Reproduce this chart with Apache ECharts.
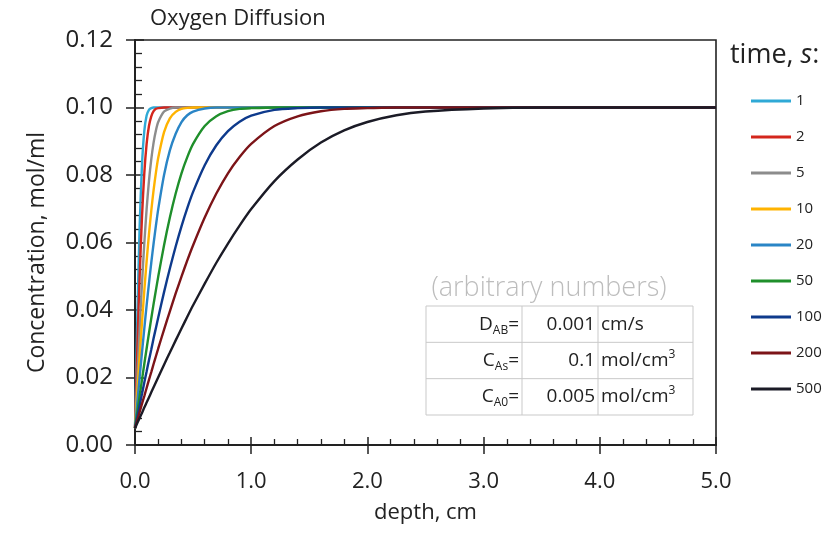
<!DOCTYPE html>
<html>
<head>
<meta charset="utf-8">
<script src="https://cdn.jsdelivr.net/npm/echarts@6/dist/echarts.min.js"></script>
<style>
html,body{margin:0;padding:0;background:#fff;}
#chart{width:838px;height:534px;}
</style>
</head>
<body>
<div id="chart"></div>
<script>
// depth grid (cm)
const depth = [0, 0.02, 0.04, 0.06, 0.08, 0.10, 0.12, 0.14, 0.16, 0.18, 0.20, 0.25, 0.30, 0.35, 0.40, 0.45, 0.50, 0.60, 0.70, 0.80, 0.90, 1.00, 1.20, 1.40, 1.60, 1.80, 2.00, 2.25, 2.50, 3.00, 3.50, 4.00, 5.00];

// concentration (mol/ml) per time
const c1   = [0.005, 0.0378, 0.0648, 0.0829, 0.0930, 0.0976, 0.0993, 0.0998, 0.1, 0.1, 0.1, 0.1, 0.1, 0.1, 0.1, 0.1, 0.1, 0.1, 0.1, 0.1, 0.1, 0.1, 0.1, 0.1, 0.1, 0.1, 0.1, 0.1, 0.1, 0.1, 0.1, 0.1, 0.1];
const c2   = [0.005, 0.0286, 0.0499, 0.0674, 0.0805, 0.0892, 0.0945, 0.0974, 0.0989, 0.0996, 0.0998, 0.1, 0.1, 0.1, 0.1, 0.1, 0.1, 0.1, 0.1, 0.1, 0.1, 0.1, 0.1, 0.1, 0.1, 0.1, 0.1, 0.1, 0.1, 0.1, 0.1, 0.1, 0.1];
const c5   = [0.005, 0.0201, 0.0345, 0.0478, 0.0597, 0.0699, 0.0782, 0.0846, 0.0896, 0.0932, 0.0957, 0.0988, 0.0997, 0.1, 0.1, 0.1, 0.1, 0.1, 0.1, 0.1, 0.1, 0.1, 0.1, 0.1, 0.1, 0.1, 0.1, 0.1, 0.1, 0.1, 0.1, 0.1, 0.1];
const c10  = [0.005, 0.0157, 0.0262, 0.0362, 0.0457, 0.0544, 0.0624, 0.0694, 0.0755, 0.0807, 0.0851, 0.0927, 0.0968, 0.0987, 0.0996, 0.0999, 0.1, 0.1, 0.1, 0.1, 0.1, 0.1, 0.1, 0.1, 0.1, 0.1, 0.1, 0.1, 0.1, 0.1, 0.1, 0.1, 0.1];
const c20  = [0.005, 0.0126, 0.0201, 0.0274, 0.0345, 0.0414, 0.0478, 0.0540, 0.0597, 0.0650, 0.0699, 0.0800, 0.0873, 0.0922, 0.0957, 0.0977, 0.0988, 0.0997, 0.1, 0.1, 0.1, 0.1, 0.1, 0.1, 0.1, 0.1, 0.1, 0.1, 0.1, 0.1, 0.1, 0.1, 0.1];
const c50  = [0.005, 0.0098, 0.0145, 0.0193, 0.0240, 0.0286, 0.0331, 0.0375, 0.0418, 0.0459, 0.0499, 0.0592, 0.0674, 0.0745, 0.0805, 0.0853, 0.0892, 0.0945, 0.0974, 0.0989, 0.0996, 0.0998, 0.1, 0.1, 0.1, 0.1, 0.1, 0.1, 0.1, 0.1, 0.1, 0.1, 0.1];
const c100 = [0.005, 0.0084, 0.0118, 0.0151, 0.0185, 0.0218, 0.0251, 0.0283, 0.0316, 0.0347, 0.0378, 0.0453, 0.0523, 0.0588, 0.0648, 0.0702, 0.0750, 0.0829, 0.0888, 0.0930, 0.0958, 0.0976, 0.0993, 0.0998, 0.1, 0.1, 0.1, 0.1, 0.1, 0.1, 0.1, 0.1, 0.1];
const c200 = [0.005, 0.0074, 0.0098, 0.0122, 0.0145, 0.0169, 0.0193, 0.0216, 0.0240, 0.0263, 0.0286, 0.0342, 0.0396, 0.0449, 0.0499, 0.0547, 0.0592, 0.0674, 0.0745, 0.0805, 0.0853, 0.0892, 0.0945, 0.0974, 0.0989, 0.0996, 0.0998, 0.1, 0.1, 0.1, 0.1, 0.1, 0.1];
const c500 = [0.005, 0.0065, 0.0080, 0.0095, 0.0111, 0.0126, 0.0141, 0.0156, 0.0171, 0.0186, 0.0201, 0.0238, 0.0274, 0.0310, 0.0345, 0.0380, 0.0414, 0.0478, 0.0540, 0.0597, 0.0650, 0.0699, 0.0782, 0.0846, 0.0896, 0.0932, 0.0957, 0.0977, 0.0988, 0.0997, 0.1, 0.1, 0.1];

const seriesNames = ['1', '2', '5', '10', '20', '50', '100', '200', '500'];
const seriesValues = [c1, c2, c5, c10, c20, c50, c100, c200, c500];
const colors = ['#2fa9d6', '#d4261c', '#8c8c8c', '#ffb300', '#2a85c6', '#1f8f2b', '#0e3a8c', '#7c1418', '#1b1b26'];

const xTicks = [0, 1, 2, 3, 4, 5];
const yTicks = [0, 0.02, 0.04, 0.06, 0.08, 0.10, 0.12];

const FONT = '"Open Sans", "Noto Sans", sans-serif';
const INK = '#222';

const chart = echarts.init(document.getElementById('chart'), null, {renderer: 'canvas'});

const series = seriesNames.map((n, k) => ({
  name: n,
  type: 'line',
  xAxisIndex: 0,
  yAxisIndex: 0,
  showSymbol: false,
  symbol: 'none',
  smooth: 0.25,
  lineStyle: {width: 2.4, color: colors[k]},
  itemStyle: {color: colors[k]},
  data: depth.map((d, i) => [d, seriesValues[k][i]])
}));

const tableFont = 19;
const rich = {
  m: {fontSize: tableFont, fontFamily: FONT, fill: INK, lineHeight: 24},
  s: {fontSize: 12, fontFamily: FONT, fill: INK, lineHeight: 15, verticalAlign: 'bottom'},
  p: {fontSize: 12, fontFamily: FONT, fill: INK, lineHeight: 12, verticalAlign: 'top'}
};
function txt(x, y, text, align) {
  return {type: 'text', x: x, y: y, z: 10,
    style: {text: text, rich: rich, font: tableFont + 'px ' + FONT, fill: INK,
      align: align, textAlign: align, verticalAlign: 'middle', textVerticalAlign: 'middle'}};
}
const tL = 426, tR = 693, tT = 306, tB = 415, c1x = 522, c2x = 598;
const rH = (tB - tT) / 3;
const lineStyleTbl = {stroke: '#c9c9c9', lineWidth: 1};

const option = {
  animation: false,
  color: colors,
  textStyle: {fontFamily: FONT},
  title: [{
    text: 'Oxygen Diffusion', left: 145, top: 3,
    textStyle: {fontSize: 22, fontWeight: 'normal', color: INK, fontFamily: FONT}
  }],
  legend: {
    orient: 'vertical', left: 746, top: 88,
    icon: 'rect', itemWidth: 40, itemHeight: 3, itemGap: 20,
    textStyle: {fontSize: 15, color: INK, lineHeight: 16, fontFamily: FONT},
    data: seriesNames
  },
  grid: {left: 135, right: 122, top: 40, bottom: 89, show: true, borderColor: INK, borderWidth: 1.6, backgroundColor: 'transparent'},
  xAxis: [{
    type: 'value', min: xTicks[0], max: xTicks[xTicks.length - 1], interval: 1, position: 'bottom',
    axisLine: {show: true, onZero: false, lineStyle: {color: INK, width: 2}},
    axisTick: {show: true, inside: true, length: 8, lineStyle: {color: INK, width: 1.5}},
    minorTick: {show: true, splitNumber: 5, length: 6, lineStyle: {color: INK, width: 1.3}},
    splitLine: {show: false},
    axisLabel: {formatter: v => v.toFixed(1), fontSize: 22, color: INK, margin: 26, fontFamily: FONT},
    name: 'depth, cm', nameLocation: 'middle', nameGap: 57,
    nameTextStyle: {fontSize: 22, color: INK, fontFamily: FONT}
  }, {
    type: 'value', min: xTicks[0], max: xTicks[xTicks.length - 1], interval: 1, position: 'bottom',
    axisLine: {show: false, onZero: false},
    axisTick: {show: true, inside: false, length: 9, lineStyle: {color: INK, width: 1.5}},
    axisLabel: {show: false}, splitLine: {show: false}
  }],
  yAxis: [{
    type: 'value', min: yTicks[0], max: yTicks[yTicks.length - 1], interval: 0.02, position: 'left',
    axisLine: {show: true, onZero: false, lineStyle: {color: INK, width: 2}},
    axisTick: {show: true, inside: true, length: 9, lineStyle: {color: INK, width: 1.5}},
    minorTick: {show: true, splitNumber: 5, length: 7, lineStyle: {color: INK, width: 1.3}},
    splitLine: {show: false},
    axisLabel: {formatter: v => v.toFixed(2), fontSize: 24, color: INK, margin: 22, fontFamily: FONT},
    name: 'Concentration, mol/ml', nameLocation: 'middle', nameGap: 86, nameRotate: 90,
    nameTextStyle: {fontSize: 23, color: INK, fontFamily: FONT, padding: [0, 20, 0, 0]}
  }, {
    type: 'value', min: yTicks[0], max: yTicks[yTicks.length - 1], interval: 0.02, position: 'left',
    axisLine: {show: false, onZero: false},
    axisTick: {show: true, inside: false, length: 9, lineStyle: {color: INK, width: 1.5}},
    axisLabel: {show: false}, splitLine: {show: false}
  }],
  graphic: [
    {type: 'text', x: 730, y: 55, z: 10,
      style: {text: '{a|time, }{i|s}{a|:}', rich: {
        a: {fontSize: 27, fontFamily: FONT, fill: INK},
        i: {fontSize: 27, fontFamily: FONT, fill: INK, fontStyle: 'italic'}},
        font: '27px ' + FONT, fill: INK, align: 'left', textAlign: 'left', verticalAlign: 'middle', textVerticalAlign: 'middle'}},
    {type: 'text', x: 549, y: 288, z: 10,
      style: {text: '(arbitrary numbers)', font: '300 27px ' + FONT, fill: '#bdbdbd',
        align: 'center', textAlign: 'center', verticalAlign: 'middle', textVerticalAlign: 'middle'}},
    {type: 'rect', z: 5, shape: {x: tL, y: tT, width: tR - tL, height: tB - tT}, style: {fill: '#fff', stroke: '#c9c9c9', lineWidth: 1}},
    {type: 'line', z: 6, shape: {x1: tL, y1: tT + rH, x2: tR, y2: tT + rH}, style: lineStyleTbl},
    {type: 'line', z: 6, shape: {x1: tL, y1: tT + 2 * rH, x2: tR, y2: tT + 2 * rH}, style: lineStyleTbl},
    {type: 'line', z: 6, shape: {x1: c1x, y1: tT, x2: c1x, y2: tB}, style: lineStyleTbl},
    {type: 'line', z: 6, shape: {x1: c2x, y1: tT, x2: c2x, y2: tB}, style: lineStyleTbl},
    txt(c1x - 3, tT + rH * 0.5, '{m|D}{s|AB}{m|=}', 'right'),
    txt(c1x - 3, tT + rH * 1.5, '{m|C}{s|As}{m|=}', 'right'),
    txt(c1x - 3, tT + rH * 2.5, '{m|C}{s|A0}{m|=}', 'right'),
    txt(c2x - 3, tT + rH * 0.5, '{m|0.001}', 'right'),
    txt(c2x - 3, tT + rH * 1.5, '{m|0.1}', 'right'),
    txt(c2x - 3, tT + rH * 2.5, '{m|0.005}', 'right'),
    txt(c2x + 3, tT + rH * 0.5, '{m|cm/s}', 'left'),
    txt(c2x + 3, tT + rH * 1.5, '{m|mol/cm}{p|3}', 'left'),
    txt(c2x + 3, tT + rH * 2.5, '{m|mol/cm}{p|3}', 'left')
  ],
  series: series
};
chart.setOption(option);
</script>
</body>
</html>
